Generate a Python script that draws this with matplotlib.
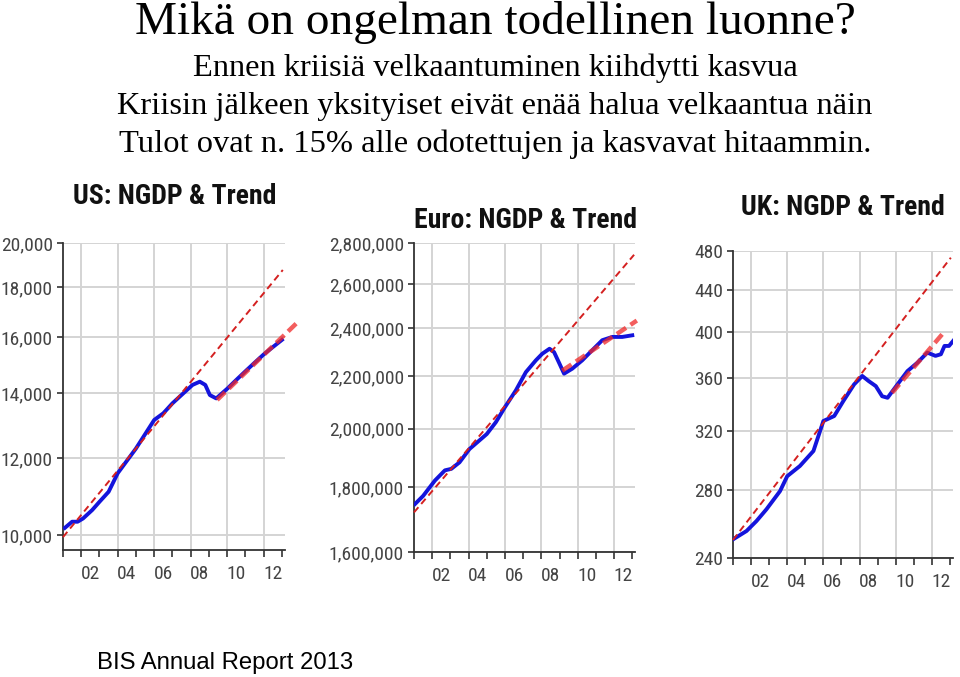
import matplotlib
matplotlib.use("Agg")
import matplotlib.pyplot as plt
from matplotlib.ticker import FixedLocator, NullLocator, NullFormatter, FuncFormatter

# ---------------- data ----------------
title_main = "Mikä on ongelman todellinen luonne?"
subtitle_lines = [
    "Ennen kriisiä velkaantuminen kiihdytti kasvua",
    "Kriisin jälkeen yksityiset eivät enää halua velkaantua näin",
    "Tulot ovat n. 15% alle odotettujen ja kasvavat hitaammin.",
]
source_text = "BIS Annual Report 2013"

panel_titles = ["US: NGDP & Trend", "Euro: NGDP & Trend", "UK: NGDP & Trend"]
year_labels = ["02", "04", "06", "08", "10", "12"]
label_years = [2002, 2004, 2006, 2008, 2010, 2012]

us_years = [2001.1, 2001.5, 2001.8, 2002.1, 2002.6, 2003.0, 2003.5, 2004.0, 2005.0,
            2006.0, 2006.5, 2007.0, 2007.6, 2008.1, 2008.5, 2008.8, 2009.05, 2009.4,
            2010.0, 2010.5, 2011.0, 2011.5, 2012.0, 2012.5, 2013.0]
us_ngdp = [10170, 10320, 10320, 10400, 10610, 10820, 11080, 11580, 12280,
           13140, 13350, 13670, 14000, 14280, 14390, 14280, 13940, 13830,
           14150, 14450, 14750, 15050, 15350, 15620, 15890]
us_trend_pre_years = [2001.0, 2013.05]
us_trend_pre = [9950, 18760]
us_trend_post_years = [2009.45, 2013.8]
us_trend_post = [13780, 16530]
us_yticks = [10000, 12000, 14000, 16000, 18000, 20000]
us_ylim = [9650, 20000]

eu_years = [2001.05, 2001.5, 2002.15, 2002.7, 2003.05, 2003.5, 2004.05, 2005.0, 2005.5,
            2006.0, 2006.6, 2007.15, 2007.7, 2008.05, 2008.45, 2008.7, 2009.0, 2009.25,
            2009.7, 2010.25, 2010.8, 2011.35, 2011.9, 2012.45, 2013.0]
eu_ngdp = [1745000, 1771000, 1821000, 1855000, 1860000, 1882000, 1928000, 1981000, 2024000,
           2080000, 2144000, 2216000, 2264000, 2291000, 2312000, 2298000, 2250000, 2210000,
           2230000, 2264000, 2306000, 2348000, 2362000, 2362000, 2369000]
eu_trend_pre_years = [2001.0, 2013.1]
eu_trend_pre = [1719000, 2741000]
eu_trend_post_years = [2009.15, 2013.25]
eu_trend_post = [2222000, 2433000]
eu_yticks = [1600000, 1800000, 2000000, 2200000, 2400000, 2600000, 2800000]
eu_ylim = [1600000, 2800000]

uk_years = [2001.0, 2001.75, 2002.3, 2002.85, 2003.6, 2004.0, 2004.7, 2005.45, 2006.0,
            2006.6, 2007.1, 2007.7, 2008.15, 2008.5, 2008.9, 2009.25, 2009.55, 2010.1,
            2010.65, 2011.2, 2011.75, 2012.2, 2012.5, 2012.7, 2012.95, 2013.25]
uk_ngdp = [250.3, 255.1, 260.9, 267.9, 279.1, 288.7, 295.4, 305.6, 327.0,
           330.7, 342.0, 355.2, 362.0, 357.9, 353.8, 345.8, 344.6, 355.2,
           366.0, 373.0, 381.6, 378.8, 380.2, 387.4, 387.4, 393.2]
uk_trend_pre_years = [2001.0, 2013.05]
uk_trend_pre = [250.0, 472.8]
uk_trend_post_years = [2009.8, 2012.65]
uk_trend_post = [348.5, 399.2]
uk_yticks = [240, 280, 320, 360, 400, 440, 480]
uk_ylim = [240, 480]

# ---------------- figure ----------------
W, H = 960, 677
fig = plt.figure(figsize=(W / 100, H / 100), dpi=100)

NARROW = ["Roboto Condensed", "DejaVu Sans"]
SERIF = ["Liberation Serif", "DejaVu Serif"]
SANS = ["Liberation Sans", "DejaVu Sans"]


def px_axes(left, top, right, bottom):
    return fig.add_axes([left / W, 1 - bottom / H, (right - left) / W, (bottom - top) / H])


panels = [
    dict(rect=(63, 243, 285, 550), xmax=2013.17, years=us_years, vals=us_ngdp,
         t1x=us_trend_pre_years, t1=us_trend_pre, t2x=us_trend_post_years, t2=us_trend_post,
         yticks=us_yticks, ylim=us_ylim, title=panel_titles[0], tpos=(175, 197)),
    dict(rect=(414, 243, 635, 552), xmax=2013.15, years=eu_years, vals=eu_ngdp,
         t1x=eu_trend_pre_years, t1=eu_trend_pre, t2x=eu_trend_post_years, t2=eu_trend_post,
         yticks=eu_yticks, ylim=eu_ylim, title=panel_titles[1], tpos=(525, 220)),
    dict(rect=(733, 251, 953, 558), xmax=2013.17, years=uk_years, vals=uk_ngdp,
         t1x=uk_trend_pre_years, t1=uk_trend_pre, t2x=uk_trend_post_years, t2=uk_trend_post,
         yticks=uk_yticks, ylim=uk_ylim, title=panel_titles[2], tpos=(843, 207)),
]

for p in panels:
    ax = px_axes(*p["rect"])
    ax.set_yscale("log")
    ax.set_xlim(2001.0, p["xmax"])
    ax.set_ylim(*p["ylim"])
    for s in ["top", "right"]:
        ax.spines[s].set_visible(False)
    for s in ["left", "bottom"]:
        ax.spines[s].set_color("#333333")
        ax.spines[s].set_linewidth(1.3)

    # y axis
    ax.yaxis.set_major_locator(FixedLocator(p["yticks"]))
    ax.yaxis.set_minor_locator(NullLocator())
    ax.yaxis.set_minor_formatter(NullFormatter())
    ax.yaxis.set_major_formatter(FuncFormatter(lambda v, pos: f"{int(round(v)):,}"))
    ax.tick_params(axis="y", which="major", direction="out", length=4.3, width=1.2,
                   color="#333333", labelcolor="#444444", labelsize=14, pad=3)
    ax.grid(axis="y", color="#d4d4d4", linewidth=1.4)

    # x axis: tick marks at each year, labels centred between ticks
    ax.xaxis.set_minor_locator(FixedLocator(list(range(2001, 2014))))
    ax.xaxis.set_major_locator(FixedLocator([y + 0.5 for y in label_years]))
    ax.set_xticklabels(year_labels)
    ax.tick_params(axis="x", which="minor", direction="out", length=5, width=1.2, color="#333333")
    ax.tick_params(axis="x", which="major", length=0, labelcolor="#444444", labelsize=14, pad=11)
    for yr in label_years:
        ax.axvline(yr, color="#d4d4d4", linewidth=1.4, zorder=0)
    for lab in ax.get_xticklabels() + ax.get_yticklabels():
        lab.set_family(NARROW)

    # series
    ax.plot(p["years"], p["vals"], color="#1414dc", linewidth=2.8, solid_joinstyle="round",
            zorder=3)
    ax.plot(p["t1x"], p["t1"], color="#d42020", linewidth=1.4, dashes=(3.5, 2.2), zorder=4,
            clip_on=False)
    ax.plot(p["t2x"], p["t2"], color="#f02828", alpha=0.75, linewidth=3.2, dashes=(2.5, 1.2),
            zorder=4, clip_on=False)

    fig.text(p["tpos"][0] / W, 1 - p["tpos"][1] / H, p["title"], ha="center", va="center",
             fontsize=20, fontweight="bold", family=NARROW, color="#111111")

# headline texts
fig.text(495 / W, 1 - 34 / H, title_main, ha="center", va="baseline", fontsize=34,
         family=SERIF, color="black")
for i, line in enumerate(subtitle_lines):
    fig.text(495 / W, 1 - (76 + 38 * i) / H, line, ha="center", va="baseline", fontsize=23.4,
             family=SERIF, color="black")

fig.text(97 / W, 1 - 669 / H, source_text, ha="left", va="baseline", fontsize=17.2,
         family=SANS, color="black")

fig.savefig("out.png", dpi=100)
